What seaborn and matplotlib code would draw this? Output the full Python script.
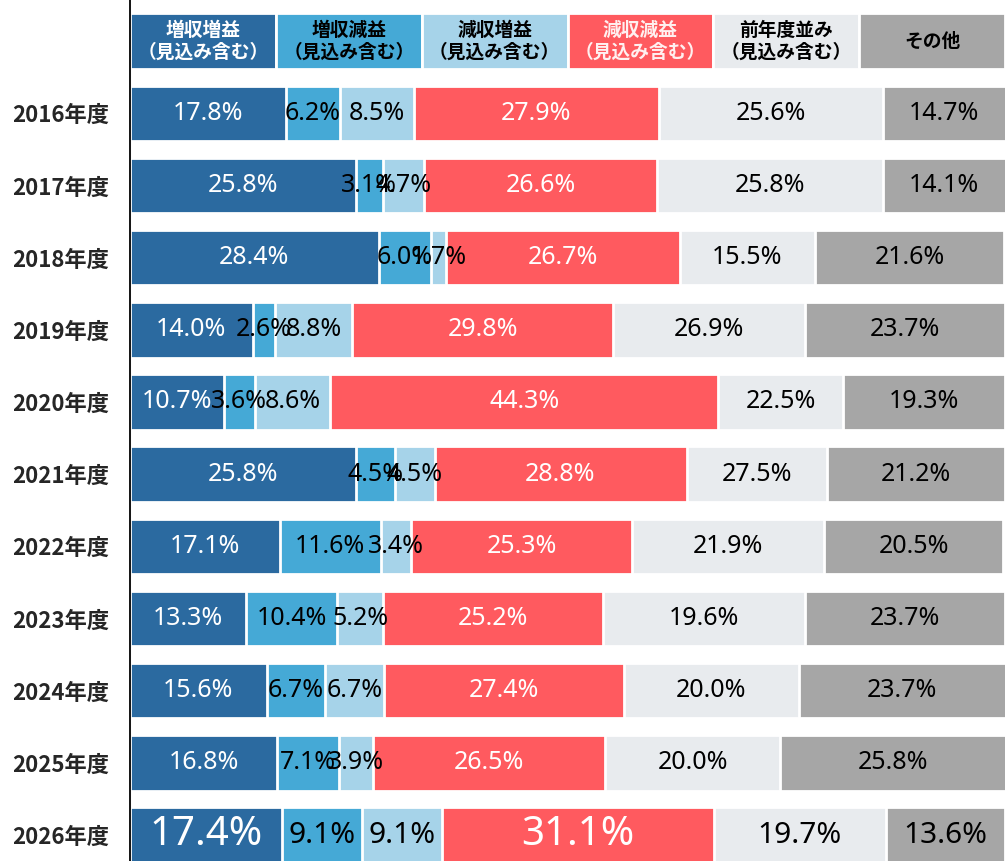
import numpy as np
import pandas as pd
import matplotlib
matplotlib.use("Agg")
import matplotlib.pyplot as plt
import seaborn as sns

years = ["2016年度", "2017年度", "2018年度", "2019年度", "2020年度", "2021年度",
         "2022年度", "2023年度", "2024年度", "2025年度", "2026年度"]
categories = ["増収増益\n（見込み含む）", "増収減益\n（見込み含む）", "減収増益\n（見込み含む）",
              "減収減益\n（見込み含む）", "前年度並み\n（見込み含む）", "その他"]

# displayed shares (%)
gain_gain = [17.8, 25.8, 28.4, 14.0, 10.7, 25.8, 17.1, 13.3, 15.6, 16.8, 17.4]
gain_loss = [6.2, 3.1, 6.0, 2.6, 3.6, 4.5, 11.6, 10.4, 6.7, 7.1, 9.1]
loss_gain = [8.5, 4.7, 1.7, 8.8, 8.6, 4.5, 3.4, 5.2, 6.7, 3.9, 9.1]
loss_loss = [27.9, 26.6, 26.7, 29.8, 44.3, 28.8, 25.3, 25.2, 27.4, 26.5, 31.1]
flat = [25.6, 25.8, 15.5, 26.9, 22.5, 27.5, 21.9, 19.6, 20.0, 20.0, 19.7]
other = [14.7, 14.1, 21.6, 23.7, 19.3, 21.2, 20.5, 23.7, 23.7, 25.8, 13.6]

# bar lengths as drawn in the picture for the last two groups
flat_drawn = [25.6, 25.8, 15.5, 21.9, 14.3, 16.0, 21.9, 23.0, 20.0, 20.0, 19.7]
other_drawn = [14.7, 14.1, 21.6, 22.9, 18.5, 20.4, 20.5, 22.9, 23.7, 25.8, 13.6]

colors = ["#2B6AA0", "#45A9D6", "#A6D3E9", "#FF5A5F", "#E8EBEE", "#A6A6A6"]
label_colors = ["white", "black", "black", "white", "black", "black"]
header_text_colors = ["white", "black", "black", "#FFF0F0", "black", "black"]

sns.set_theme(style="white")
plt.rcParams["font.family"] = ["Noto Sans", "Noto Sans CJK JP", "DejaVu Sans"]

fig = plt.figure(figsize=(10.05, 8.61), dpi=100)
ax = fig.add_axes([130 / 1005, 0, 875 / 1005, 1])

bar_series = np.array([gain_gain, gain_loss, loss_gain, loss_loss, flat_drawn, other_drawn])
label_series = [gain_gain, gain_loss, loss_gain, loss_loss, flat, other]
cum = np.cumsum(bar_series, axis=0)

for k in reversed(range(len(categories))):
    df = pd.DataFrame({"year": years, "cum": cum[k]})
    sns.barplot(data=df, x="cum", y="year", order=years, orient="y",
                color=colors[k], saturation=1, width=0.77, errorbar=None,
                edgecolor="white", linewidth=2, ax=ax)

# header legend row
n = len(categories)
hw = 100 / n
ax.barh([-1] * n, [hw] * n, left=np.arange(n) * hw, height=0.77,
        color=colors, edgecolor="white", linewidth=2)
for k, cat in enumerate(categories):
    ax.text(k * hw + hw / 2, -1, cat, ha="center", va="center",
            fontsize=13.5, fontweight="bold", color=header_text_colors[k],
            family=["Noto Sans CJK JP"], linespacing=1.2)

# value labels
for i in range(len(years)):
    last = i == len(years) - 1
    for k in range(n):
        start = cum[k - 1][i] if k > 0 else 0.0
        end = min(cum[k][i], 100.0)
        xc = (start + end) / 2
        if last:
            fs = 29 if k in (0, 3) else 21.5
        else:
            fs = 18
        ax.text(xc, i, f"{label_series[k][i]:.1f}%", ha="center", va="center",
                fontsize=fs, color=label_colors[k], family=["Noto Sans"])

ax.set_xlim(0, 100)
ax.set_ylim(10.36, -1.57)
ax.set_xlabel("")
ax.set_ylabel("")
ax.set_xticks([])
ax.set_yticks(range(len(years)))
ax.set_yticklabels(years, fontsize=16, fontweight="bold",
                   family=["Noto Sans CJK JP"])
ax.tick_params(axis="y", length=0, pad=15)
for s in ["top", "right", "bottom"]:
    ax.spines[s].set_visible(False)
ax.spines["left"].set_color("black")
ax.spines["left"].set_linewidth(1.3)
ax.spines["left"].set_zorder(5)

fig.savefig("out.png", dpi=100)
